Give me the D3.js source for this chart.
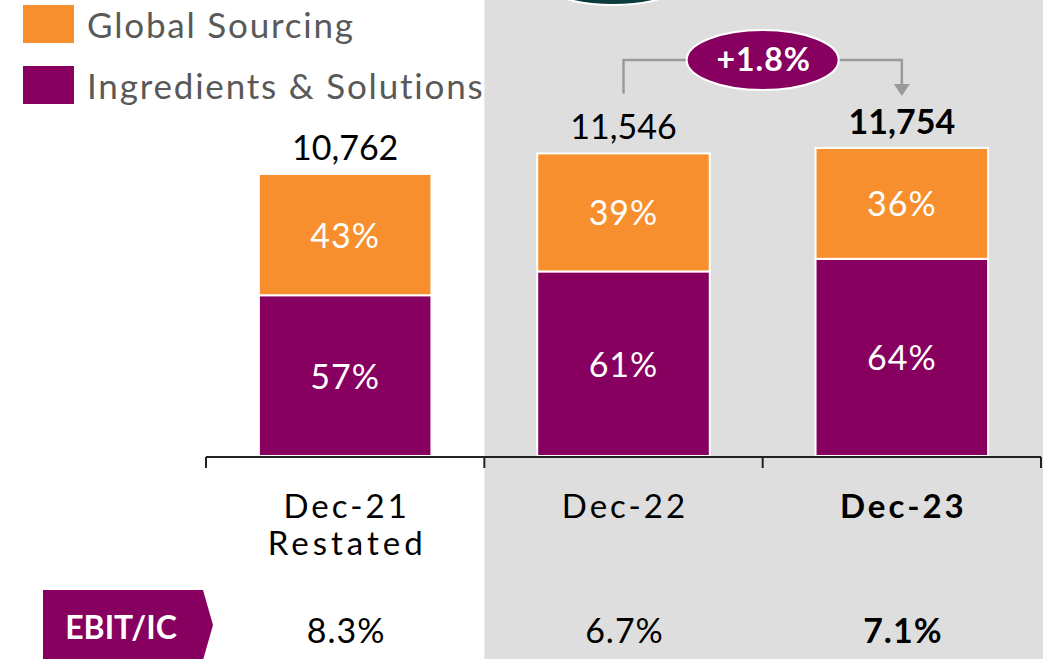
<!DOCTYPE html>
<html>
<head>
<meta charset="utf-8">
<script src="https://cdn.jsdelivr.net/npm/d3@7"></script>
<style>
  body { margin: 0; background: #fff; }
  svg { display: block; font-family: Lato, "Noto Sans", sans-serif; }
</style>
</head>
<body>
<div id="chart"></div>
<script>
// Chart data
const categories = ["Dec-21", "Dec-22", "Dec-23"];
const subLabels = ["Restated", "", ""];
const totals = [10762, 11546, 11754];
const ingredientsShare = [57, 61, 64];
const sourcingShare = [43, 39, 36];
const ebitIc = ["8.3%", "6.7%", "7.1%"];
const growthLabel = "+1.8%";
const seriesNames = ["Global Sourcing", "Ingredients & Solutions"];

const W = 1043, H = 659;
const orange = "#f78f2e", purple = "#870060";

const svg = d3.select("#chart").append("svg")
  .attr("width", W).attr("height", H);

// Scales
const x = d3.scaleBand().domain(categories).range([206, 1041])
  .paddingInner(0.38).paddingOuter(0.19);
const y = d3.scaleLinear().domain([0, 17400]).range([456, 0]);
const step = x.step();
const cx = (c) => x(c) + x.bandwidth() / 2;
const bandLeft = (c) => x(c) - step * 0.19;

// Grey shaded background behind latest two periods
svg.append("rect")
  .attr("x", bandLeft("Dec-22")).attr("y", 0)
  .attr("width", W - bandLeft("Dec-22")).attr("height", H)
  .attr("fill", "#dedede");

// Dark shape peeking in from the top
svg.append("ellipse")
  .attr("cx", 613).attr("cy", -20).attr("rx", 72).attr("ry", 25)
  .attr("fill", "#0b3a3a").attr("stroke", "#fff").attr("stroke-width", 2);

// Stacked bars
const bars = svg.append("g");
categories.forEach((c, i) => {
  const total = totals[i];
  const ingVal = total * ingredientsShare[i] / 100;
  bars.append("rect")
    .attr("x", x(c)).attr("width", x.bandwidth())
    .attr("y", y(ingVal)).attr("height", y(0) - y(ingVal))
    .attr("fill", purple).attr("stroke", "#fff").attr("stroke-width", 2);
  bars.append("rect")
    .attr("x", x(c)).attr("width", x.bandwidth())
    .attr("y", y(total)).attr("height", y(ingVal) - y(total))
    .attr("fill", orange).attr("stroke", "#fff").attr("stroke-width", 2);

  // share labels
  bars.append("text")
    .attr("x", cx(c)).attr("y", (y(ingVal) + y(0)) / 2 + 13)
    .attr("text-anchor", "middle").attr("fill", "#fff")
    .attr("font-size", 34).attr("letter-spacing", 1)
    .text(ingredientsShare[i] + "%");
  bars.append("text")
    .attr("x", cx(c)).attr("y", (y(total) + y(ingVal)) / 2 + 13)
    .attr("text-anchor", "middle").attr("fill", "#fff")
    .attr("font-size", 34).attr("letter-spacing", 1)
    .text(sourcingShare[i] + "%");

  // total labels
  bars.append("text")
    .attr("x", cx(c)).attr("y", y(total) - 14)
    .attr("text-anchor", "middle").attr("fill", "#000")
    .attr("font-size", 34)
    .attr("font-weight", i === 2 ? "bold" : "normal")
    .text(d3.format(",")(total));
});

// Axis line with ticks at band boundaries
const axisY = 457;
const axis = svg.append("g").attr("stroke", "#222").attr("stroke-width", 2);
axis.append("line").attr("x1", 206).attr("x2", 1041)
  .attr("y1", axisY).attr("y2", axisY);
const boundaries = categories.map(bandLeft).concat([1041]);
boundaries.forEach((b) => {
  axis.append("line").attr("x1", b).attr("x2", b)
    .attr("y1", axisY).attr("y2", axisY + 11);
});

// Category labels
categories.forEach((c, i) => {
  svg.append("text")
    .attr("x", cx(c) + 1.5).attr("y", 518)
    .attr("text-anchor", "middle").attr("font-size", 33)
    .attr("letter-spacing", 3)
    .attr("font-weight", i === 2 ? "bold" : "normal")
    .attr("fill", "#000").text(c);
  if (subLabels[i]) {
    svg.append("text")
      .attr("x", cx(c) + 2).attr("y", 555)
      .attr("text-anchor", "middle").attr("font-size", 33)
      .attr("letter-spacing", 4)
      .attr("fill", "#000").text(subLabels[i]);
  }
});

// Growth annotation between Dec-22 and Dec-23
const gx1 = cx("Dec-22"), gx2 = cx("Dec-23");
const gy = 60;
const ann = svg.append("g");
ann.append("path")
  .attr("d", `M${gx1},${y(totals[1]) - 60} V${gy} H${gx2} V${y(totals[2]) - 62}`)
  .attr("fill", "none").attr("stroke", "#9a9a9a").attr("stroke-width", 2.5);
ann.append("path")
  .attr("d", `M${gx2 - 8},${y(totals[2]) - 64} L${gx2 + 8},${y(totals[2]) - 64} L${gx2},${y(totals[2]) - 52} Z`)
  .attr("fill", "#9a9a9a");
ann.append("ellipse")
  .attr("cx", (gx1 + gx2) / 2).attr("cy", gy)
  .attr("rx", 76).attr("ry", 30)
  .attr("fill", purple).attr("stroke", "#fff").attr("stroke-width", 2);
ann.append("text")
  .attr("x", (gx1 + gx2) / 2 + 1).attr("y", gy + 11)
  .attr("text-anchor", "middle").attr("fill", "#fff")
  .attr("font-size", 32).attr("font-weight", "bold")
  .attr("letter-spacing", 1).text(growthLabel);

// Legend
const legend = svg.append("g");
[orange, purple].forEach((col, i) => {
  legend.append("rect")
    .attr("x", 23).attr("y", 5 + i * 61).attr("width", 51).attr("height", 38)
    .attr("fill", col);
  legend.append("text")
    .attr("x", 87).attr("y", 38 + i * 61)
    .attr("font-size", 35).attr("fill", "#595959")
    .attr("letter-spacing", 1.8)
    .text(seriesNames[i]);
});

// EBIT/IC row
svg.append("path")
  .attr("d", "M43,590 H203 L213,625 L203,660 H43 Z")
  .attr("fill", purple);
svg.append("text")
  .attr("x", 121).attr("y", 639)
  .attr("text-anchor", "middle").attr("fill", "#fff")
  .attr("font-size", 32).attr("font-weight", "bold").text("EBIT/IC");
categories.forEach((c, i) => {
  svg.append("text")
    .attr("x", cx(c) + 1).attr("y", 643)
    .attr("text-anchor", "middle").attr("font-size", 34)
    .attr("letter-spacing", 1)
    .attr("font-weight", i === 2 ? "bold" : "normal")
    .attr("fill", "#000").text(ebitIc[i]);
});
</script>
</body>
</html>
